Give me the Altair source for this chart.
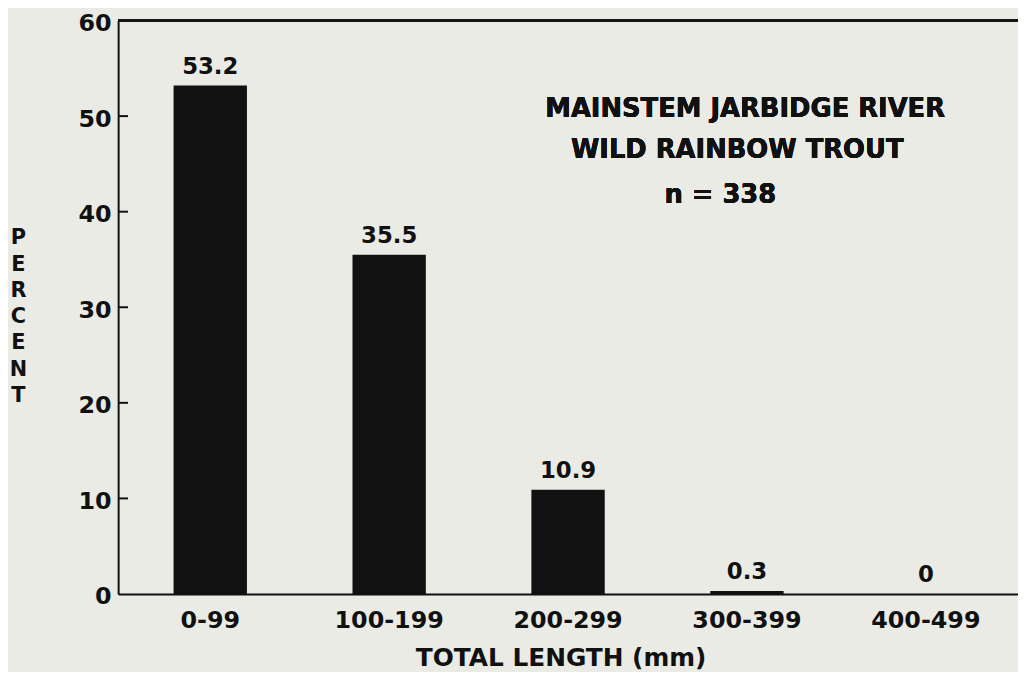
import altair as alt
import pandas as pd

categories = ["0-99", "100-199", "200-299", "300-399", "400-499"]
percents = [53.2, 35.5, 10.9, 0.3, 0.0]
value_labels = ["53.2", "35.5", "10.9", "0.3", "0"]
y_ticks = [0, 10, 20, 30, 40, 50, 60]
inner_ticks = [10, 20, 30, 40, 50]
title_lines = ["MAINSTEM JARBIDGE RIVER", "WILD RAINBOW TROUT", "n = 338"]

df = pd.DataFrame({"cat": categories, "pct": percents, "lab": value_labels})
tick_df = pd.DataFrame({"v": inner_ticks})

W, H = 907, 578
FONT = "DejaVu Sans"
INK = "#111111"

xscale = alt.Scale(paddingInner=0.59, paddingOuter=0.31)
yscale = alt.Scale(domain=[0, 60], nice=False)

x_enc = alt.X("cat:N", sort=categories, scale=xscale,
              axis=alt.Axis(title="TOTAL LENGTH (mm)", labelAngle=0, ticks=False,
                            labelPadding=15, labelFontSize=24, labelFont=FONT,
                            labelFontWeight="bold", labelColor=INK,
                            domainColor=INK, domainWidth=2,
                            titleFont=FONT, titleFontSize=25, titleFontWeight="bold",
                            titleColor=INK, titleX=446, titleY=72,
                            titleBaseline="alphabetic", titleAlign="center"))
y_enc = alt.Y("pct:Q", scale=yscale,
              axis=alt.Axis(values=y_ticks, ticks=False, grid=False,
                            labelPadding=7, labelOffset=3, labelFontSize=24,
                            labelFont=FONT, labelFontWeight="bold", labelColor=INK,
                            domainColor=INK, domainWidth=2,
                            title=["P", "E", "R", "C", "E", "N", "T"],
                            titleAngle=0, titleFont=FONT, titleFontSize=21,
                            titleFontWeight="bold", titleColor=INK,
                            titleLineHeight=26.5, titleX=-101, titleY=208,
                            titleBaseline="top", titleAlign="center"))

bars = alt.Chart(df).mark_bar(color=INK).encode(x=x_enc, y=y_enc)

labels = alt.Chart(df).mark_text(font=FONT, fontSize=23, fontWeight="bold",
                                 color=INK, baseline="alphabetic", dy=-12).encode(
    x=alt.X("cat:N", sort=categories, scale=xscale),
    y=alt.Y("pct:Q", scale=yscale),
    text="lab:N")

ticks = alt.Chart(tick_df).mark_rule(color=INK, strokeWidth=2).encode(
    y=alt.Y("v:Q", scale=yscale),
    x=alt.value(0), x2=alt.value(10))

top_line = alt.Chart(tick_df).mark_rule(color=INK, strokeWidth=2).encode(
    x=alt.value(0), x2=alt.value(W), y=alt.value(0))

title_layers = []
for line, xp, yp in zip(title_lines, [632, 624, 607], [97, 139, 184]):
    title_layers.append(
        alt.Chart(tick_df).mark_text(font=FONT, fontSize=26, fontWeight="bold",
                                     color=INK, baseline="alphabetic",
                                     align="center", text=line).encode(
            x=alt.value(xp), y=alt.value(yp)))

chart = alt.layer(bars, labels, ticks, top_line, *title_layers).properties(
    width=W, height=H,
    autosize=alt.AutoSizeParams(type="none"),
    padding={"left": 111, "top": 10, "right": 0, "bottom": 76},
    background="#ebebe6",
).configure_view(stroke=None)

chart.save("out.html", embed_options={"renderer": "svg", "actions": False})
